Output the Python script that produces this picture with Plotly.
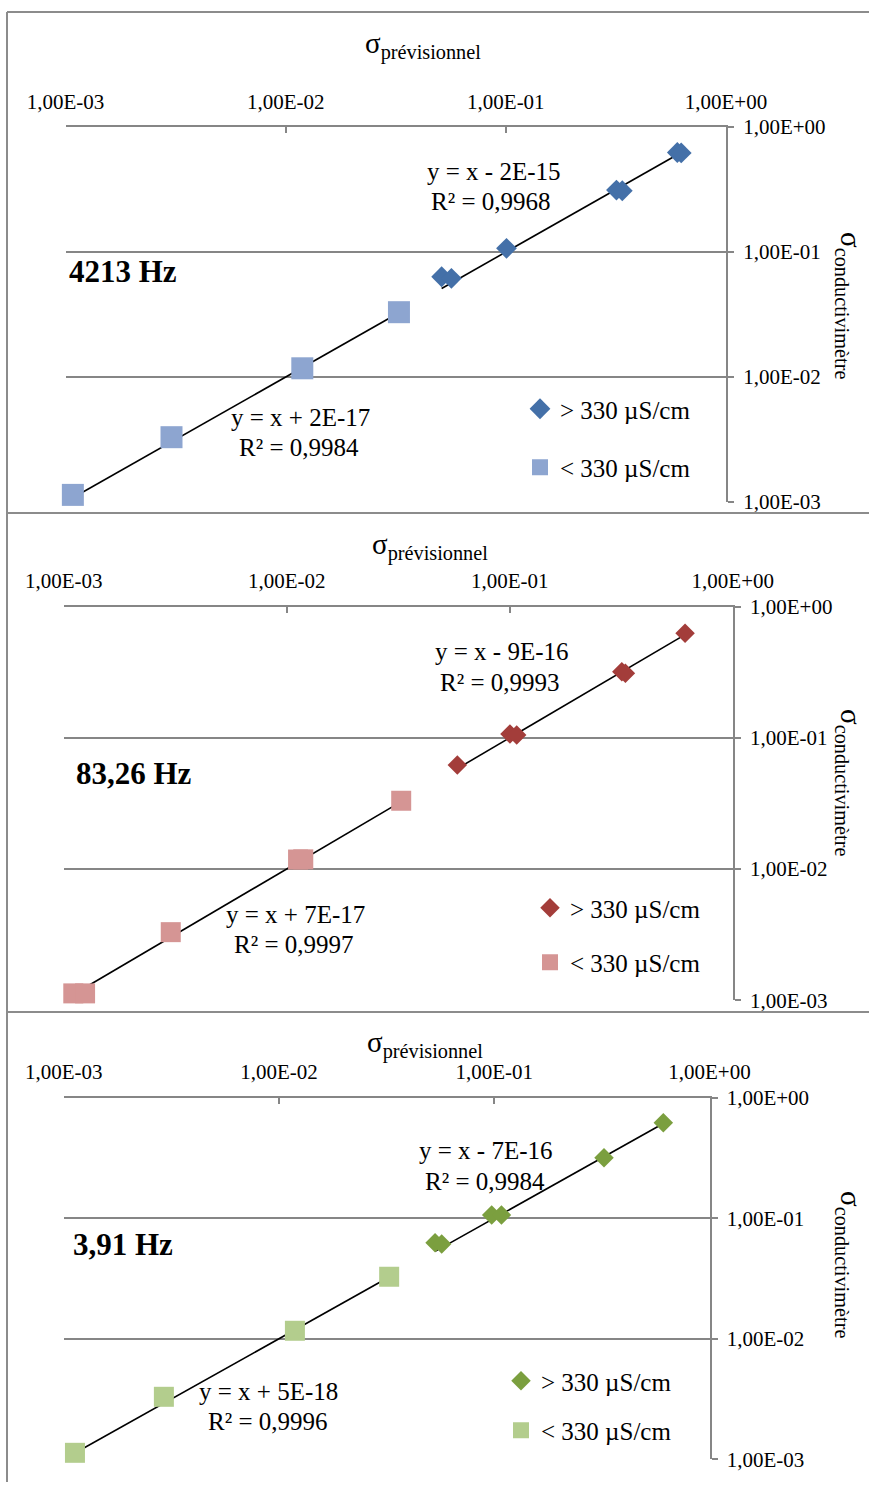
import plotly.graph_objects as go

# ---------------- data ----------------
tick_vals = [0.001, 0.01, 0.1, 1]
tick_text = ["1,00E-03", "1,00E-02", "1,00E-01", "1,00E+00"]

freq_labels = ["4213 Hz", "83,26 Hz", "3,91 Hz"]
series_names = ["> 330 µS/cm", "< 330 µS/cm"]

p1_hi_x = [0.0511, 0.0566, 0.1007, 0.318, 0.338, 0.601, 0.626]
p1_hi_y = [0.0634, 0.0616, 0.107, 0.313, 0.309, 0.625, 0.620]
p1_lo_x = [0.00108, 0.00303, 0.0119, 0.0327]
p1_lo_y = [0.00114, 0.0033, 0.01174, 0.033]

p2_hi_x = [0.0582, 0.1002, 0.1074, 0.318, 0.330, 0.611]
p2_hi_y = [0.0619, 0.1067, 0.105, 0.318, 0.310, 0.625]
p2_lo_x = [0.001104, 0.001247, 0.00302, 0.01124, 0.01186, 0.0326]
p2_lo_y = [0.001127, 0.001127, 0.0033, 0.0118, 0.01184, 0.0331]

p3_hi_x = [0.0531, 0.0570, 0.0973, 0.108, 0.3236, 0.610]
p3_hi_y = [0.0626, 0.0611, 0.1063, 0.1063, 0.318, 0.620]
p3_lo_x = [0.001128, 0.00292, 0.01186, 0.0325]
p3_lo_y = [0.001132, 0.0033, 0.01165, 0.0327]

# trendline y = slope*x + intercept  (hi series, lo series)
trend_slope = [[1, 1], [1, 1], [1, 1]]
trend_intercept = [[-2e-15, 2e-17], [-9e-16, 7e-17], [-7e-16, 5e-18]]
eq_lines = [[("y = x - 2E-15", "R² = 0,9968"), ("y = x + 2E-17", "R² = 0,9984")],
            [("y = x - 9E-16", "R² = 0,9993"), ("y = x + 7E-17", "R² = 0,9997")],
            [("y = x - 7E-16", "R² = 0,9984"), ("y = x + 5E-18", "R² = 0,9996")]]

hi_colors = ["#4470A8", "#A33D3A", "#7B9F3F"]
lo_colors = ["#8DA5D0", "#D59594", "#B3CD8D"]

# ---------------- layout geometry (pixels) ----------------
W, H = 869, 1486
panels = [
    dict(x0=65.5, x1=726.0, y0=127.0, y1=502.0, hi=(p1_hi_x, p1_hi_y), lo=(p1_lo_x, p1_lo_y),
         title_xy=(423, 46), rtitle_xy=(849, 305), freq_xy=(67, 271),
         eq_xy=[((494, 172), (491, 201)), ((300, 418), (299, 448))],
         leg_xy=(520, 386), leg_gap=23, ms=(16, 22)),
    dict(x0=63.7, x1=732.8, y0=606.5, y1=1000.2, hi=(p2_hi_x, p2_hi_y), lo=(p2_lo_x, p2_lo_y),
         title_xy=(430, 546), rtitle_xy=(849, 782), freq_xy=(74, 774),
         eq_xy=[((502, 651), (500, 682)), ((295, 914), (294, 944))],
         leg_xy=(530, 885), leg_gap=19, ms=(15, 20)),
    dict(x0=63.7, x1=709.5, y0=1097.7, y1=1459.3, hi=(p3_hi_x, p3_hi_y), lo=(p3_lo_x, p3_lo_y),
         title_xy=(425, 1044), rtitle_xy=(849, 1264), freq_xy=(71, 1244),
         eq_xy=[((486, 1150), (485, 1181)), ((268, 1391), (268, 1421))],
         leg_xy=(501, 1358), leg_gap=14, ms=(15, 20)),
]

def px(x):
    return x / W

def py(y):
    return 1 - y / H

FONT = "Liberation Serif"
GRID = "#868686"

fig = go.Figure()
annotations = []
shapes = []
layout_axes = {}

def ann(text, xy, size, **kw):
    d = dict(text=text, x=px(xy[0]), y=py(xy[1]), xref="paper", yref="paper", showarrow=False,
             xanchor="center", yanchor="middle", font=dict(family=FONT, size=size, color="black"))
    d.update(kw)
    return d

for i, p in enumerate(panels):
    n = "" if i == 0 else str(i + 1)
    xa, ya = "x" + n, "y" + n
    leg = "legend" + n
    hx, hy = p["hi"]
    lx, ly = p["lo"]
    # trendlines
    for j, (sx, sy) in enumerate([(hx, hy), (lx, ly)]):
        xs = [min(sx), max(sx)]
        ys = [trend_slope[i][j] * v + trend_intercept[i][j] for v in xs]
        fig.add_trace(go.Scatter(x=xs, y=ys, mode="lines", xaxis=xa, yaxis=ya,
                                 line=dict(color="black", width=1.6), showlegend=False,
                                 hoverinfo="skip"))
    fig.add_trace(go.Scatter(x=hx, y=hy, mode="markers", name=series_names[0], xaxis=xa, yaxis=ya,
                             marker=dict(symbol="diamond", size=p["ms"][0], color=hi_colors[i]),
                             legend=leg, legendgroup="hi" + n, cliponaxis=False))
    fig.add_trace(go.Scatter(x=lx, y=ly, mode="markers", name=series_names[1], xaxis=xa, yaxis=ya,
                             marker=dict(symbol="square", size=p["ms"][1], color=lo_colors[i]),
                             legend=leg, legendgroup="lo" + n, cliponaxis=False))

    layout_axes["xaxis" + n] = dict(
        type="log", range=[-3, 0], domain=[px(p["x0"]), px(p["x1"])], anchor=ya, side="top",
        showgrid=False, zeroline=False, showline=True, linecolor=GRID, linewidth=2,
        ticks="inside", ticklen=6, tickwidth=2, tickcolor=GRID, automargin=False,
        tickvals=tick_vals, ticktext=tick_text, ticklabelstandoff=8,
        tickfont=dict(family=FONT, size=21, color="black"))
    layout_axes["yaxis" + n] = dict(
        type="log", range=[-3, 0], domain=[py(p["y1"]), py(p["y0"])], anchor=xa, side="right",
        showgrid=True, gridcolor=GRID, gridwidth=2, zeroline=False,
        showline=True, linecolor=GRID, linewidth=2, automargin=False,
        ticks="outside", ticklen=6, tickwidth=2, tickcolor=GRID,
        tickvals=tick_vals, ticktext=tick_text, ticklabelstandoff=5,
        tickfont=dict(family=FONT, size=21, color="black"))
    layout_axes[leg] = dict(
        x=px(p["leg_xy"][0]), y=py(p["leg_xy"][1]), xanchor="left", yanchor="top",
        bgcolor="rgba(0,0,0,0)", font=dict(family=FONT, size=25, color="black"),
        tracegroupgap=p["leg_gap"], itemwidth=30)

    annotations.append(ann("σ<sub>prévisionnel</sub>", p["title_xy"], 29))
    annotations.append(ann("σ<sub>conductivimètre</sub>", p["rtitle_xy"], 29, textangle=90))
    annotations.append(ann("<b>" + freq_labels[i] + "</b>", p["freq_xy"], 31, xanchor="left"))
    for j in range(2):
        for k in range(2):
            annotations.append(ann(eq_lines[i][j][k], p["eq_xy"][j][k], 25))

# chart frames
for yy in [12, 513, 1012]:
    shapes.append(dict(type="line", xref="paper", yref="paper", x0=px(7), x1=1, y0=py(yy), y1=py(yy),
                       line=dict(color="#8C8C8C", width=2)))
shapes.append(dict(type="line", xref="paper", yref="paper", x0=px(7), x1=px(7), y0=py(12), y1=py(1482),
                   line=dict(color="#8C8C8C", width=2)))

fig.update_layout(width=W, height=H, margin=dict(l=0, r=0, t=0, b=0, autoexpand=False),
                  paper_bgcolor="white", plot_bgcolor="white",
                  annotations=annotations, shapes=shapes, **layout_axes)

fig.write_html("out.html")
